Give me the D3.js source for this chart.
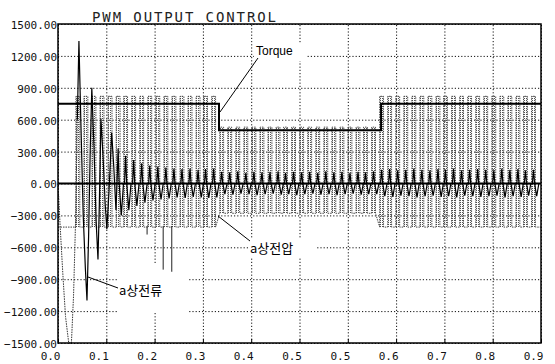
<!DOCTYPE html>
<html><head><meta charset="utf-8">
<script src="https://cdn.jsdelivr.net/npm/d3@7"></script>
<style>
html,body{margin:0;padding:0;background:#fff;}
svg{display:block;}
</style></head><body>
<svg id="c" width="555" height="364"></svg>
<script>
// ---------------- data ----------------
const xTicks = [0, 0.09, 0.18, 0.27, 0.36, 0.45, 0.54, 0.63, 0.72, 0.81, 0.90];
const xTickLabels = ["0.0","0.1","0.2","0.3","0.4","0.5","0.5","0.6","0.7","0.8","0.9"];
const yTicks = [1500, 1200, 900, 600, 300, 0, -300, -600, -900, -1200, -1500];

// Torque (step profile)
const torqueT = [0, 0.300, 0.300, 0.602, 0.602, 0.900];
const torqueV = [750, 750, 500, 500, 750, 750];

// a상전압 : PWM pulse centres (s) and level per segment
const pulseT = [0.037,0.052,0.067,0.082,0.097,0.112,0.126,0.141,0.156,0.171,
                0.186,0.201,0.216,0.231,0.246,0.261,0.275,0.290,0.305,0.320,
                0.335,0.350,0.365,0.380,0.395,0.410,0.424,0.439,0.454,0.469,
                0.484,0.499,0.514,0.529,0.544,0.559,0.573,0.588,0.603,0.618,
                0.633,0.648,0.663,0.678,0.693,0.708,0.722,0.737,0.752,0.767,
                0.782,0.797,0.812,0.827,0.842,0.857,0.871,0.886];
const voltSegStart = [0, 0.300, 0.602];
const voltSegHigh  = [820, 530, 820];
const voltSegLow   = [-410, -280, -410];

// a상전류 : start-up transient (explicit samples)
const currentTransT = [0, 0.004, 0.009, 0.014, 0.020, 0.025, 0.029, 0.033, 0.036, 0.039,
                       0.042, 0.047, 0.051, 0.054, 0.057, 0.060, 0.063, 0.067, 0.071, 0.0745,
                       0.077, 0.080, 0.084, 0.088, 0.091, 0.095, 0.100, 0.104, 0.108];
const currentTransV = [0, -400, -850, -1250, -1500, -1500, -1050, -300, 600, 1340,
                       700, -300, -800, -1100, -500, 300, 900, 350, -350, -715,
                       -200, 610, 250, -200, -430, -80, 480, 150, -250];
// a상전류 : per-pulse peak / dip after the transient (pulses 6 .. 58)
const currentPeak = [330,260,220,190,170,160,150,140,135,140,130,135,140,
                     110,105,115,100,110,105,110,115,100,110,105,110,100,115,105,110,100,110,105,115,
                     130,135,125,130,140,130,125,135,130,140,125,130,135,130,125,140,130,135,125,130];
const currentDip  = [-300,-250,-210,-180,-160,-150,-140,-130,-135,-125,-130,-135,-130,
                     -100,-105,-95,-100,-110,-100,-95,-105,-100,-110,-100,-95,-105,-100,-110,-100,-95,-105,-100,-100,
                     -120,-125,-115,-120,-130,-120,-115,-125,-120,-130,-115,-120,-125,-120,-115,-130,-120,-125,-115,-120];
const spikeT = [0.166, 0.196, 0.212];
const spikeV = [-480, -810, -830];

// ---------------- drawing ----------------
const svg = d3.select("#c");
const L = 58, R = 541, T = 24, B = 343;
const x = d3.scaleLinear().domain([0, 0.9]).range([L, R]);
const y = d3.scaleLinear().domain([-1500, 1500]).range([B, T]);

const defs = svg.append("defs");
const pat = defs.append("pattern").attr("id","hatch").attr("patternUnits","userSpaceOnUse")
  .attr("width",2).attr("height",2);
pat.append("rect").attr("width",1).attr("height",1).attr("fill","#555");

// title
svg.append("text").attr("x",92).attr("y",22).attr("textLength",184).attr("lengthAdjust","spacing")
  .attr("font-family","DejaVu Sans Mono").attr("font-size",14).attr("fill","#222")
  .text("PWM OUTPUT CONTROL");

// grid
const gGrid = svg.append("g");
gGrid.append("g").attr("transform",`translate(0,${B})`)
  .call(d3.axisBottom(x).tickValues(xTicks).tickSize(-(B-T)).tickFormat(""))
  .call(g => g.select(".domain").remove())
  .selectAll("line").attr("stroke","#111").attr("stroke-dasharray","1.2,2");
gGrid.append("g").attr("transform",`translate(${L},0)`)
  .call(d3.axisLeft(y).tickValues(yTicks).tickSize(-(R-L)).tickFormat(""))
  .call(g => g.select(".domain").remove())
  .selectAll("line").attr("stroke","#111").attr("stroke-dasharray","1.2,2");

// label knock-outs (white boxes over grid)
svg.append("rect").attr("x",254).attr("y",44).attr("width",53).attr("height",17).attr("fill","#fff");
svg.append("rect").attr("x",249).attr("y",239).attr("width",67).attr("height",18).attr("fill","#fff");
svg.append("rect").attr("x",117).attr("y",264).attr("width",71).attr("height",49).attr("fill","#fff");

// voltage pulses
const hw = 0.0036;
function seg(t){ let s=0; for(let k=0;k<voltSegStart.length;k++) if(t>=voltSegStart[k]) s=k; return s; }
const gV = svg.append("g");
const vPts = [];
vPts.push([0, voltSegLow[0]]);
pulseT.forEach(t => {
  const s = seg(t);
  vPts.push([t-hw, voltSegLow[s]]);
  vPts.push([t-hw, voltSegHigh[s]]);
  vPts.push([t+hw, voltSegHigh[s]]);
  vPts.push([t+hw, voltSegLow[s]]);
});
vPts.push([0.9, voltSegLow[2]]);
gV.selectAll("rect.p").data(pulseT).enter().append("rect").attr("class","p")
  .attr("x", t => x(t-hw)).attr("width", t => x(t+hw)-x(t-hw))
  .attr("y", t => y(voltSegHigh[seg(t)]))
  .attr("height", t => y(voltSegLow[seg(t)]) - y(voltSegHigh[seg(t)]))
  .attr("fill","url(#hatch)");
gV.append("path").attr("d", d3.line().x(d=>x(d[0])).y(d=>y(d[1]))(vPts))
  .attr("fill","none").attr("stroke","#333").attr("stroke-width",0.9).attr("stroke-dasharray","1.5,1");

// zero line
svg.append("line").attr("x1",x(0)).attr("x2",x(0.9)).attr("y1",y(0)).attr("y2",y(0))
  .attr("stroke","#000").attr("stroke-width",2);

// current
const cPts = currentTransT.map((t,i)=>[t,currentTransV[i]]);
currentPeak.forEach((p,k) => {
  const t = pulseT[k+5];
  cPts.push([t-0.002, 0]);
  cPts.push([t, p]);
  cPts.push([t+0.002, 0]);
  cPts.push([t+0.006, currentDip[k]]);
  cPts.push([t+0.010, 0]);
});
const lineC = d3.line().x(d=>x(d[0])).y(d=>y(d[1]));
const split = 8;
svg.append("path").attr("d", lineC(cPts.slice(0,split+1))).attr("fill","none")
  .attr("stroke","#333").attr("stroke-width",1).attr("stroke-dasharray","1.5,1");
svg.append("path").attr("d", lineC(cPts.slice(split))).attr("fill","none")
  .attr("stroke","#000").attr("stroke-width",1.2);
svg.selectAll("line.sp").data(spikeT).enter().append("line").attr("class","sp")
  .attr("x1",t=>x(t)).attr("x2",t=>x(t)).attr("y1",y(-400)).attr("y2",(t,i)=>y(spikeV[i]))
  .attr("stroke","#222").attr("stroke-width",1);

// torque
svg.append("path").attr("d", d3.line().x((d,i)=>x(torqueT[i])).y((d,i)=>y(torqueV[i]))(torqueT))
  .attr("fill","none").attr("stroke","#000").attr("stroke-width",2);

// frame
svg.append("rect").attr("x",L).attr("y",T).attr("width",R-L).attr("height",B-T)
  .attr("fill","none").attr("stroke","#000").attr("stroke-width",1.5);

// axes labels
const ax = svg.append("g").attr("transform",`translate(0,${B})`)
  .call(d3.axisBottom(x).tickValues(xTicks).tickSizeInner(-4).tickSizeOuter(0)
        .tickFormat((d,i)=>xTickLabels[i]));
ax.select(".domain").remove();
ax.selectAll("line").attr("stroke","#000");
ax.selectAll("text").attr("font-family","DejaVu Sans Mono").attr("font-size",11).attr("fill","#111")
  .attr("text-anchor","end").attr("dx","2px").attr("y",17).attr("dy",0);
const ay = svg.append("g").attr("transform",`translate(${L},0)`)
  .call(d3.axisLeft(y).tickValues(yTicks).tickSize(0).tickPadding(1).tickFormat(d3.format(".2f")));
ay.select(".domain").remove();
ay.selectAll("text").attr("font-family","DejaVu Sans Mono").attr("font-size",11).attr("fill","#111")
  .attr("dy","0.4em");

// annotations
const ann = [
  {text:"Torque", tx:256, ty:55, lx1:258, ly1:58, lx2:220, ly2:112, fs:12, ff:"Liberation Sans"},
  {text:"a상전압", tx:250, ty:253, lx1:250, ly1:241, lx2:218, ly2:216, fs:13, ff:"Noto Sans CJK KR"},
  {text:"a상전류", tx:119, ty:295, lx1:118, ly1:288, lx2:88, ly2:277, fs:13, ff:"Noto Sans CJK KR"}
];
ann.forEach(a => {
  svg.append("line").attr("x1",a.lx1).attr("y1",a.ly1).attr("x2",a.lx2).attr("y2",a.ly2)
    .attr("stroke","#000").attr("stroke-width",1);
  svg.append("text").attr("x",a.tx).attr("y",a.ty).attr("font-family",a.ff)
    .attr("font-size",a.fs).attr("fill","#000").text(a.text);
});
</script>
</body></html>
